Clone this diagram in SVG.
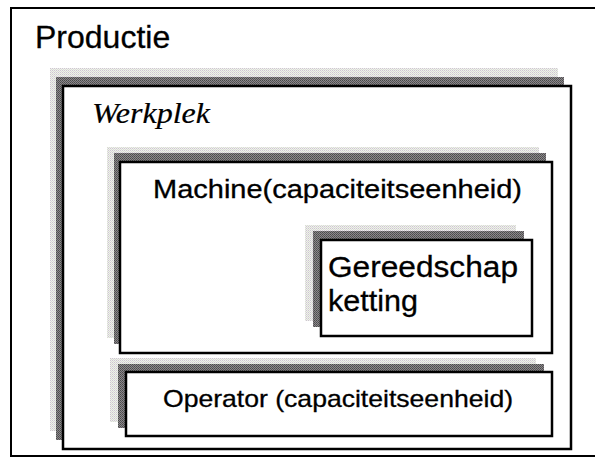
<svg xmlns="http://www.w3.org/2000/svg" width="595" height="458" viewBox="0 0 595 458">
  <defs>
    <pattern id="dots" width="2" height="2" patternUnits="userSpaceOnUse">
      <rect width="2" height="2" fill="#8a8a8a"/>
      <rect width="1" height="1" fill="#4a4a4a"/>
      <rect x="1" y="1" width="1" height="1" fill="#5a525a"/>
    </pattern>
    <pattern id="halo" width="2" height="2" patternUnits="userSpaceOnUse">
      <rect width="2" height="2" fill="#eeeeee"/>
      <rect width="1" height="1" fill="#cfc8cf"/>
      <rect x="1" y="1" width="1" height="1" fill="#dadfd2"/>
    </pattern>
  </defs>
  <style>
    .box { fill: #ffffff; stroke: #000000; stroke-width: 2.5; }
    .shadow { fill: url(#dots); }
    .halo { fill: url(#halo); }
    .sans { font-family: "Liberation Sans", Arial, sans-serif; fill: #000000; stroke: #000000; stroke-width: 0.3; }
    .serif { font-family: "Liberation Serif", "Times New Roman", serif; font-style: italic; fill: #000000; stroke: #000000; stroke-width: 0.2; }
  </style>
  <rect width="595" height="458" fill="#ffffff"/>

  <g id="productie">
    <rect x="11" y="8" width="600" height="448" fill="#ffffff" stroke="#000000" stroke-width="2"/>
    <text class="sans" x="35" y="48" font-size="32">Productie</text>
  </g>

  <g id="werkplek">
    <rect class="halo" x="50" y="68" width="508" height="363"/>
    <rect class="shadow" x="56" y="77" width="508" height="363"/>
    <rect class="box" x="63" y="86" width="508" height="363"/>
    <text class="serif" x="92" y="123" font-size="30" textLength="118" lengthAdjust="spacingAndGlyphs">Werkplek</text>
  </g>

  <g id="machine">
    <rect class="halo" x="107" y="147" width="432" height="191"/>
    <rect class="shadow" x="114" y="153" width="432" height="191"/>
    <rect class="box" x="120" y="162" width="432" height="191"/>
    <text class="sans" x="153" y="198" font-size="25" textLength="369" lengthAdjust="spacingAndGlyphs">Machine(capaciteitseenheid)</text>
  </g>

  <g id="gereedschapketting">
    <rect class="halo" x="305" y="225" width="211" height="96"/>
    <rect class="shadow" x="313" y="231" width="211" height="96"/>
    <rect class="box" x="321" y="240" width="211" height="96"/>
    <text class="sans" x="328" y="277" font-size="29" textLength="190" lengthAdjust="spacingAndGlyphs">Gereedschap</text>
    <text class="sans" x="328" y="311" font-size="29" textLength="90" lengthAdjust="spacingAndGlyphs">ketting</text>
  </g>

  <g id="operator">
    <rect class="halo" x="110" y="358" width="426" height="64"/>
    <rect class="shadow" x="118" y="364" width="426" height="64"/>
    <rect class="box" x="126" y="372" width="426" height="64"/>
    <text class="sans" x="163" y="407" font-size="24" textLength="350" lengthAdjust="spacingAndGlyphs">Operator (capaciteitseenheid)</text>
  </g>
</svg>
